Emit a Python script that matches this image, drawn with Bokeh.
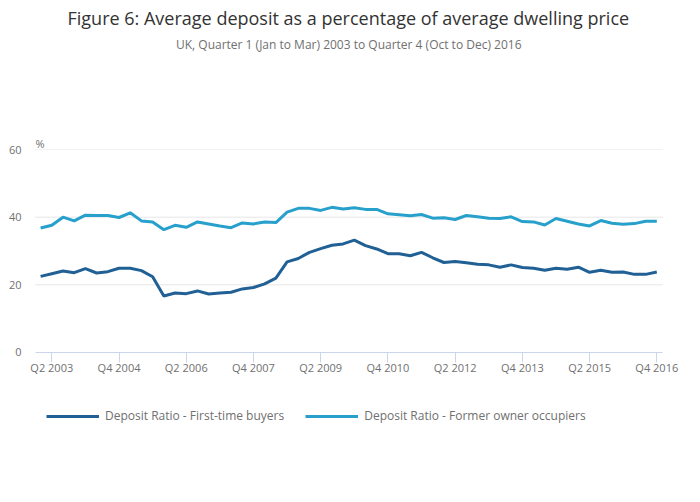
from bokeh.plotting import figure
from bokeh.models import ColumnDataSource, FixedTicker, Range1d, Title, Legend, LegendItem
from bokeh.embed import file_html
from bokeh.resources import INLINE

years = list(range(2003, 2017))
quarters = [f"Q{q} {y}" for y in years for q in (1, 2, 3, 4)]

first_time_buyers = [22.5, 23.3, 24.1, 23.6, 24.8, 23.5, 23.9, 24.9, 24.9, 24.2,
                     22.4, 16.7, 17.6, 17.4, 18.2, 17.3, 17.6, 17.8, 18.8, 19.2,
                     20.3, 22.0, 26.8, 27.8, 29.6, 30.7, 31.7, 32.1, 33.2, 31.6,
                     30.6, 29.2, 29.2, 28.6, 29.6, 28.0, 26.6, 26.9, 26.5, 26.1,
                     25.9, 25.2, 25.9, 25.1, 24.9, 24.3, 24.9, 24.6, 25.2, 23.7,
                     24.3, 23.7, 23.8, 23.1, 23.1, 23.8]
former_owner_occupiers = [36.8, 37.6, 40.0, 38.9, 40.6, 40.5, 40.5, 39.9, 41.3, 38.9,
                          38.6, 36.3, 37.6, 37.0, 38.6, 38.0, 37.4, 36.9, 38.3, 38.0,
                          38.6, 38.4, 41.5, 42.6, 42.6, 42.0, 42.9, 42.4, 42.8, 42.3,
                          42.3, 41.0, 40.7, 40.4, 40.8, 39.7, 39.8, 39.3, 40.5, 40.1,
                          39.7, 39.6, 40.1, 38.7, 38.6, 37.7, 39.6, 38.8, 38.0, 37.4,
                          39.0, 38.2, 37.9, 38.1, 38.8, 38.8]
tick_labels = ["Q2 2003", "Q4 2004", "Q2 2006", "Q4 2007", "Q2 2009",
               "Q4 2010", "Q2 2012", "Q4 2013", "Q2 2015", "Q4 2016"]
y_ticks = [0, 20, 40, 60]
grid_ticks = [20, 40, 60]

FONT = "Open Sans"
GREY = "#707070"

# extent of the plotting area (in quarter index units) used for grid lines and axis line
plot_x_start, plot_x_end = -0.48, 55.54

src = ColumnDataSource(dict(x=list(range(len(quarters))), q=quarters,
                            ftb=first_time_buyers, foo=former_owner_occupiers))
grid_src = ColumnDataSource(dict(x0=[plot_x_start] * len(grid_ticks),
                                 x1=[plot_x_end] * len(grid_ticks), y=grid_ticks))

# the frame extends below the zero line (for the legend) and a bit sideways
# (so edge tick labels are not clipped); the x axis is pinned at y = 0
p = figure(frame_width=652, frame_height=291, output_backend="svg", toolbar_location=None,
           x_range=Range1d(-1.08, 57.115), y_range=Range1d(-26.01, 60),
           min_border_left=28, min_border_right=4, min_border_top=0, min_border_bottom=46)
p.outline_line_color = None

# main title is the outermost panel; added titles stack outward from the frame
p.title.text = "Figure 6: Average deposit as a percentage of average dwelling price"
p.title.align = "left"
p.title.offset = 39
p.title.vertical_align = "bottom"
p.title.standoff = 5.6
p.title.text_font = FONT
p.title.text_font_size = "18px"
p.title.text_font_style = "normal"
p.title.text_color = "#333333"

p.add_layout(Title(text="%", align="left", offset=7, vertical_align="bottom", standoff=-2.4,
                   text_font=FONT, text_font_size="11px", text_font_style="normal",
                   text_color=GREY), "above")
p.add_layout(Title(text=" ", text_font=FONT, text_font_size="12px", standoff=60.5,
                   vertical_align="bottom"), "above")
p.add_layout(Title(text="UK, Quarter 1 (Jan to Mar) 2003 to Quarter 4 (Oct to Dec) 2016",
                   align="left", offset=147.5, vertical_align="bottom", standoff=3.2,
                   text_font=FONT, text_font_size="12px", text_font_style="normal",
                   text_color=GREY), "above")

p.segment("x0", "y", "x1", "y", source=grid_src, line_color="#e6e6e6", line_width=1,
          level="underlay")

r1 = p.line("x", "ftb", source=src, line_color="#206095", line_width=3)
r2 = p.line("x", "foo", source=src, line_color="#27a0cc", line_width=3)

tick_pos = [quarters.index(t) for t in tick_labels]
xa = p.xaxis[0]
xa.fixed_location = 0
xa.bounds = (plot_x_start, plot_x_end)
xa.ticker = FixedTicker(ticks=tick_pos)
xa.major_label_overrides = {i: t for i, t in zip(tick_pos, tick_labels)}
xa.axis_line_color = "#ccd6eb"
xa.major_tick_line_color = "#ccd6eb"
xa.major_tick_out = 10
xa.major_tick_in = 0
xa.minor_tick_line_color = None
xa.major_label_text_font = FONT
xa.major_label_text_font_size = "11px"
xa.major_label_text_color = GREY
xa.major_label_standoff = -2

ya = p.yaxis[0]
ya.ticker = FixedTicker(ticks=y_ticks)
ya.axis_line_color = None
ya.major_tick_line_color = None
ya.major_tick_out = 0
ya.major_tick_in = 0
ya.minor_tick_line_color = None
ya.major_label_text_font = FONT
ya.major_label_text_font_size = "11px"
ya.major_label_text_color = GREY
ya.major_label_standoff = 7

p.xgrid.grid_line_color = None
p.ygrid.grid_line_color = None

legend = Legend(items=[LegendItem(label="Deposit Ratio - First-time buyers", renderers=[r1]),
                       LegendItem(label="Deposit Ratio - Former owner occupiers", renderers=[r2])],
                orientation="horizontal", location=(18, 16), padding=0, margin=0,
                spacing=21, glyph_width=53, glyph_height=16, label_height=16,
                label_standoff=6, label_text_font=FONT, label_text_font_size="12px",
                label_text_color=GREY, border_line_color=None, background_fill_alpha=0)
p.add_layout(legend, "center")

open("out.html", "w").write(file_html(p, INLINE))
